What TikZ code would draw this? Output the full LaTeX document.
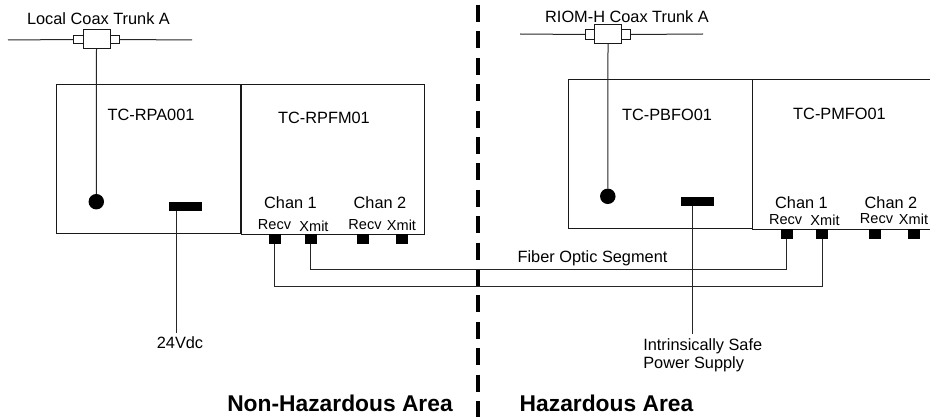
\documentclass[tikz,border=0pt]{standalone}
\usepackage{fontspec}
\setmainfont{Liberation Sans}
\tikzset{
 x=0.75pt,y=-0.75pt,
 wire/.style={draw=black!85,line width=0.75pt},
 boxs/.style={draw=black!90,line width=0.75pt,fill=white,inner sep=0,outer sep=0,anchor=north west},
 lab/.style={inner sep=0,font=\fontsize{12.25pt}{13.5pt}\selectfont},
 slab/.style={inner sep=0,font=\fontsize{10.9pt}{12pt}\selectfont},
 big/.style={inner sep=0,font=\fontsize{17.1pt}{19pt}\selectfont\bfseries},
 port/.style={fill=black,inner sep=0,minimum width=9pt,minimum height=7.9pt,outer sep=0},
 bar/.style={fill=black,inner sep=0,minimum width=24.5pt,minimum height=6.6pt,outer sep=0},
 dot/.style={circle,fill=black,inner sep=0,minimum size=11.6pt,outer sep=0},
}
\begin{document}
\begin{tikzpicture}
\useasboundingbox (0,0) rectangle (930,417);
% hazard boundary
\coordinate (hzT) at (478,5);
\coordinate (hzB) at (478,417);
\draw[black,line width=3pt,dash pattern=on 12.75pt off 7.05pt] (hzT) -- (hzB);
% modules
\node[boxs,minimum width=138pt,minimum height=111.75pt] (rpa) at (56.7,84.7) {};
\node[boxs,minimum width=137.5pt,minimum height=112.2pt] (rpfm) at (241,85) {};
\node[boxs,minimum width=137.5pt,minimum height=111.75pt] (pbfo) at (568.7,79.3) {};
\node[boxs,minimum width=138pt,minimum height=112pt] (pmfo) at (752,80) {};
% left trunk
\coordinate (la) at (8,40);
\coordinate (lb) at (192,40);
\node[boxs,anchor=center,minimum width=20.25pt,minimum height=14.25pt] (ltap) at (96.5,39.5) {};
\node[boxs,anchor=east,minimum width=7.2pt,minimum height=6.6pt] (ltl) at (ltap.west) {};
\node[boxs,anchor=west,minimum width=7.2pt,minimum height=6.6pt] (ltr) at (ltap.east) {};
\draw[wire] (la) -- (ltl.west);
\draw[wire] (ltr.east) -- (lb);
\node[dot] (ldot) at (96.3,201.7) {};
\draw[wire] (ltap.south) -- (ldot);
% right trunk
\coordinate (ra) at (520,34);
\coordinate (rb) at (703,34);
\node[boxs,anchor=center,minimum width=20.25pt,minimum height=14.25pt] (rtap) at (608,34.5) {};
\node[boxs,anchor=east,minimum width=7pt,minimum height=7pt] (rtl) at (rtap.west) {};
\node[boxs,anchor=west,minimum width=7pt,minimum height=7pt] (rtr) at (rtap.east) {};
\draw[wire] (ra) -- (rtl.west);
\draw[wire] (rtr.east) -- (rb);
\node[dot] (rdot) at (607.8,196.3) {};
\draw[wire] (rtap.south) -- (rdot);
% power bars
\node[bar] (lbar) at (185.6,206.3) {};
\node[bar] (rbar) at (697.3,201.2) {};
\coordinate (lpow) at (176.3,333);
\coordinate (rpow) at (692,334);
\draw[wire] (lpow |- lbar.south) -- (lpow);
\draw[wire] (rpow |- rbar.south) -- (rpow);
% ports
\node[port] (p1) at (274.5,239) {};
\node[port] (p2) at (310.5,239) {};
\node[port] (p3) at (362.5,239) {};
\node[port] (p4) at (402,239) {};
\node[port] (q1) at (786.5,234) {};
\node[port] (q2) at (822,234) {};
\node[port] (q3) at (875,234) {};
\node[port] (q4) at (913.5,234) {};
% fibres
\draw[wire] (p2.south) |- (q1.south |- 0,269) -- (q1.south);
\draw[wire] (p1.south) |- (q2.south |- 0,286.3) -- (q2.south);
% text
\node[lab] (t1) at (98.5,18.5) {Local Coax Trunk A};
\node[lab] (t2) at (627,17) {RIOM-H Coax Trunk A};
\node[lab] (t3) at (151,115) {TC-RPA001};
\node[lab] (t4) at (324,117.7) {TC-RPFM01};
\node[lab] (t5) at (667,115) {TC-PBFO01};
\node[lab] (t6) at (839.5,114.3) {TC-PMFO01};
\node[lab] (t7) at (290.5,203) {Chan 1};
\node[lab] (t8) at (380,203) {Chan 2};
\node[lab] (t9) at (801.5,203) {Chan 1};
\node[lab] (t10) at (891,203) {Chan 2};
\node[slab] (t11) at (274.5,225) {Recv};
\node[slab] (t12) at (314,226.7) {Xmit};
\node[slab] (t13) at (365,225) {Recv};
\node[slab] (t14) at (401.5,225) {Xmit};
\node[slab] (t15) at (785.7,220) {Recv};
\node[slab] (t16) at (825,220) {Xmit};
\node[slab] (t17) at (876.5,219) {Recv};
\node[slab] (t18) at (913.5,219) {Xmit};
\node[lab] (t19) at (592.5,258) {Fiber Optic Segment};
\node[lab] (t20) at (180,343) {24Vdc};
\node[lab,align=left,anchor=west] (t21) at (643,355) {Intrinsically Safe\\Power Supply};
\node[big] (t22) at (340,403) {Non-Hazardous Area};
\node[big] (t23) at (606.5,403) {Hazardous Area};
\end{tikzpicture}
\end{document}
